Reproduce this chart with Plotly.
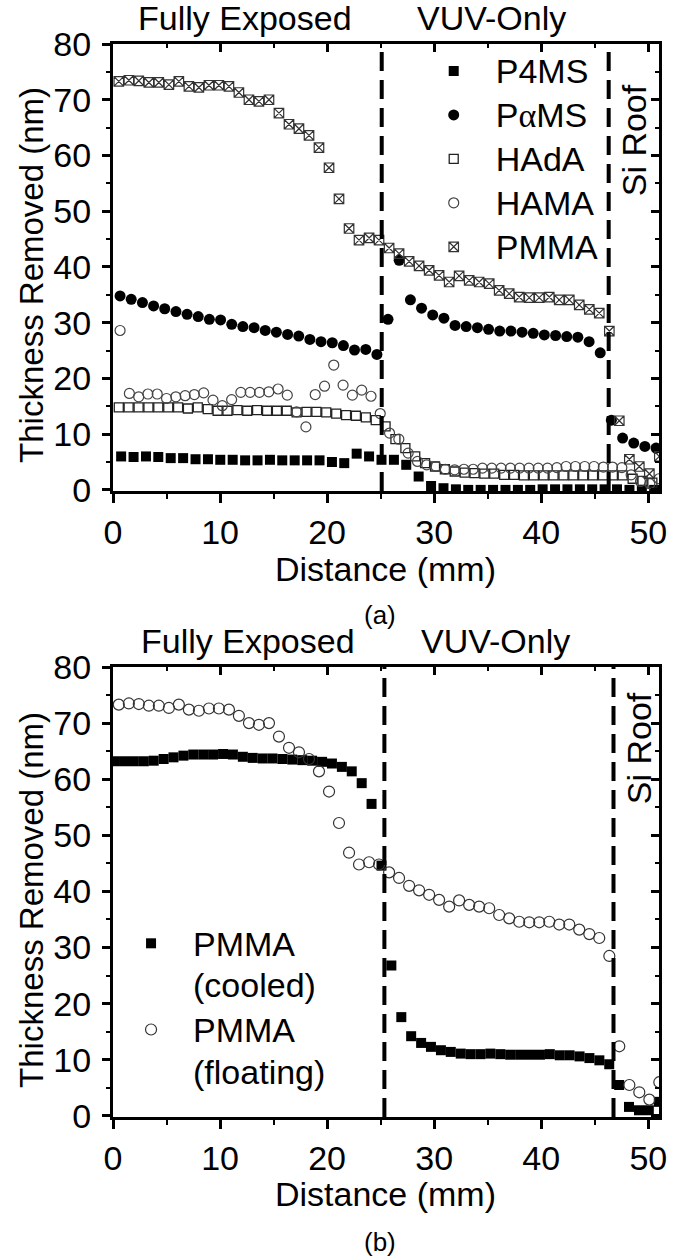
import plotly.graph_objects as go

# ---------------- data : panel (a) ----------------
p4ms_x = [0.76, 1.92, 3.08, 4.23, 5.39, 6.55, 7.71, 8.87, 10.02, 11.18, 12.34, 13.50, 14.66, 15.81,
          16.97, 18.13, 19.29, 20.45, 21.60, 22.76, 23.92, 25.08, 26.24, 27.39, 28.55, 29.71, 30.87,
          32.03, 33.18, 34.34, 35.50, 36.66, 37.82, 38.97, 40.13, 41.29, 42.45, 43.61, 44.76, 45.92,
          47.08, 48.24, 49.40, 50.55]
p4ms_y = [6.0, 5.9, 6.0, 5.9, 5.7, 5.7, 5.5, 5.5, 5.4, 5.4, 5.3, 5.3, 5.4, 5.3, 5.3, 5.3, 5.3, 5.0,
          4.8, 6.5, 6.0, 5.4, 5.4, 4.5, 2.4, 0.7, 0.3, 0.1, 0.0, 0.0, 0.0, 0.0, 0.0, 0.0, 0.1, 0.1,
          0.1, 0.1, 0.1, 0.1, 0.1, 0.0, 0.0, 0.0]

pams_x = [0.66, 1.70, 2.75, 3.79, 4.83, 5.88, 6.92, 7.96, 9.00, 10.05, 11.09, 12.13, 13.18, 14.22,
          15.26, 16.31, 17.35, 18.39, 19.43, 20.48, 21.52, 22.56, 23.61, 24.65, 25.69, 26.73, 27.78,
          28.82, 29.86, 30.91, 31.95, 32.99, 34.04, 35.08, 36.12, 37.17, 38.21, 39.25, 40.29, 41.34,
          42.38, 43.42, 44.47, 45.51, 46.55, 47.60, 48.64, 49.68, 50.72]
pams_y = [34.8, 34.2, 33.6, 33.0, 32.5, 32.0, 31.5, 31.1, 30.6, 30.5, 29.7, 29.3, 29.1, 28.6, 28.3,
          27.9, 27.6, 27.0, 26.6, 26.4, 25.9, 25.1, 25.2, 24.3, 30.6, 41.2, 34.1, 32.6, 31.4, 30.8,
          29.5, 29.3, 29.1, 28.8, 28.5, 28.5, 28.3, 28.1, 27.8, 27.7, 27.5, 27.4, 26.6, 24.6, 12.5,
          9.3, 8.4, 7.8, 7.5]

hada_x = [0.54, 1.46, 2.39, 3.31, 4.23, 5.16, 6.08, 7.00, 7.92, 8.85, 9.77, 10.69, 11.62, 12.54,
          13.46, 14.39, 15.31, 16.23, 17.15, 18.08, 19.00, 19.92, 20.85, 21.77, 22.69, 23.62, 24.54,
          25.46, 26.38, 27.31, 28.23, 29.15, 30.08, 31.00, 31.92, 32.85, 33.77, 34.69, 35.61, 36.54,
          37.46, 38.38, 39.31, 40.23, 41.15, 42.08, 43.00, 43.92, 44.84, 45.77, 46.69, 47.61, 48.54,
          49.46, 50.38]
hada_y = [14.8, 14.8, 14.8, 14.8, 14.8, 14.8, 14.8, 14.6, 14.8, 14.5, 14.2, 14.2, 14.3, 14.2, 14.3,
          14.2, 14.2, 14.2, 13.9, 14.0, 14.0, 13.9, 13.7, 13.4, 13.3, 13.0, 12.5, 11.4, 9.1, 7.5,
          6.0, 4.8, 4.2, 3.7, 3.3, 3.1, 3.0, 2.9, 2.9, 2.7, 2.7, 2.6, 2.6, 2.6, 2.6, 2.6, 2.6, 2.6,
          2.6, 2.6, 2.6, 2.6, 2.0, 1.6, 1.3]

hama_x = [0.66, 1.53, 2.40, 3.26, 4.13, 5.00, 5.87, 6.74, 7.60, 8.47, 9.34, 10.21, 11.08, 11.94,
          12.81, 13.68, 14.55, 15.42, 16.28, 17.15, 18.02, 18.89, 19.76, 20.62, 21.49, 22.36, 23.23,
          24.10, 24.96, 25.83, 26.70, 27.57, 28.44, 29.30, 30.17, 31.04, 31.91, 32.78, 33.64, 34.51,
          35.38, 36.25, 37.12, 37.98, 38.85, 39.72, 40.59, 41.46, 42.32, 43.19, 44.06, 44.93, 45.80,
          46.66, 47.53, 48.40, 49.27, 50.14, 51.00]
hama_y = [28.6, 17.3, 16.7, 17.2, 17.2, 16.4, 16.7, 16.9, 17.1, 17.4, 16.1, 15.1, 16.2, 17.5, 17.5,
          17.5, 17.6, 18.1, 17.0, 14.0, 11.3, 17.1, 18.6, 22.4, 18.8, 17.0, 17.9, 16.8, 13.7, 10.2,
          9.1, 6.6, 5.1, 4.5, 4.2, 3.7, 3.6, 3.7, 3.7, 3.9, 3.9, 3.9, 3.9, 3.9, 3.9, 3.9, 3.9, 4.0,
          4.2, 4.2, 4.2, 4.2, 4.1, 4.1, 4.0, 2.7, 1.5, 1.1, 2.0]

pmma_x = [0.54, 1.48, 2.41, 3.35, 4.28, 5.22, 6.15, 7.09, 8.02, 8.96, 9.89, 10.83, 11.76, 12.70,
          13.63, 14.57, 15.50, 16.44, 17.37, 18.31, 19.24, 20.18, 21.11, 22.05, 22.98, 23.92, 24.85,
          25.79, 26.72, 27.66, 28.59, 29.53, 30.46, 31.40, 32.33, 33.27, 34.20, 35.14, 36.07, 37.01,
          37.94, 38.88, 39.81, 40.75, 41.68, 42.62, 43.55, 44.49, 45.42, 46.36, 47.29, 48.23, 49.16,
          50.10, 51.03]
pmma_y = [73.3, 73.5, 73.4, 73.1, 73.1, 72.7, 73.3, 72.4, 72.2, 72.6, 72.6, 72.4, 71.3, 70.0, 69.7,
          70.0, 67.6, 65.6, 64.8, 63.6, 61.4, 57.8, 52.2, 46.9, 44.8, 45.2, 44.8, 43.4, 42.4, 41.0,
          40.2, 39.4, 38.5, 37.3, 38.4, 37.6, 37.3, 37.0, 35.8, 35.2, 34.6, 34.5, 34.5, 34.6, 34.1,
          34.1, 33.2, 32.4, 31.7, 28.5, 12.4, 5.5, 4.2, 2.9, 6.0]

# ---------------- data : panel (b) ----------------
cooled_x = [0.10, 1.03, 1.95, 2.88, 3.80, 4.73, 5.65, 6.58, 7.50, 8.43, 9.35, 10.28, 11.20, 12.13,
            13.05, 13.98, 14.90, 15.83, 16.75, 17.68, 18.60, 19.53, 20.45, 21.38, 22.30, 23.23,
            24.15, 25.08, 26.00, 26.93, 27.85, 28.78, 29.70, 30.63, 31.55, 32.48, 33.40, 34.33,
            35.25, 36.18, 37.10, 38.03, 38.95, 39.88, 40.80, 41.73, 42.65, 43.58, 44.50, 45.43,
            46.35, 47.28, 48.20, 49.13, 50.05, 50.98]
cooled_y = [63.2, 63.2, 63.2, 63.2, 63.3, 63.6, 63.9, 64.2, 64.4, 64.4, 64.4, 64.5, 64.4, 64.0,
            63.8, 63.7, 63.7, 63.6, 63.5, 63.4, 63.3, 63.1, 62.8, 62.2, 61.4, 59.3, 55.6, 44.6,
            26.8, 17.6, 14.2, 13.0, 12.3, 11.7, 11.4, 11.1, 11.0, 11.0, 11.1, 11.0, 10.9, 10.9,
            10.9, 10.9, 11.0, 10.8, 10.8, 10.6, 10.3, 9.9, 9.2, 5.5, 1.6, 1.0, 1.0, 2.5]
floating_x = pmma_x
floating_y = pmma_y

# region boundaries (mm)
bounds_a = [25.1, 46.3]
bounds_b = [25.35, 46.75]

x_ticks = [0, 10, 20, 30, 40, 50]
y_ticks = [0, 10, 20, 30, 40, 50, 60, 70, 80]

FONT = "Liberation Sans, Arial, sans-serif"
W, H = 679, 1257
ML, MR, MT, MB = 113, 14, 44, 140
PW, PH = W - ML - MR, H - MT - MB


def px(xp):
    return (xp - ML) / PW


def py(yp):
    return 1 - (yp - MT) / PH


def big(t):
    return "<span style='font-size:34px'>" + t + "</span>"


fig = go.Figure()

fig.add_trace(go.Scatter(x=p4ms_x, y=p4ms_y, mode="markers", name=big("P4MS"),
                         marker=dict(symbol="square", size=10, color="black"),
                         xaxis="x", yaxis="y", legend="legend"))
fig.add_trace(go.Scatter(x=pams_x, y=pams_y, mode="markers",
                         name=big("P<span style='font-family:Liberation Serif'>α</span>MS"),
                         marker=dict(symbol="circle", size=11, color="black"),
                         xaxis="x", yaxis="y", legend="legend"))
fig.add_trace(go.Scatter(x=hada_x, y=hada_y, mode="markers", name=big("HAdA"),
                         marker=dict(symbol="square-open", size=9, color="#222", line=dict(width=1.3, color="#222")),
                         xaxis="x", yaxis="y", legend="legend"))
fig.add_trace(go.Scatter(x=hama_x, y=hama_y, mode="markers", name=big("HAMA"),
                         marker=dict(symbol="circle-open", size=10, color="#444", line=dict(width=1.2, color="#444")),
                         xaxis="x", yaxis="y", legend="legend"))
fig.add_trace(go.Scatter(x=pmma_x, y=pmma_y, mode="markers", name=big("PMMA"),
                         marker=dict(symbol="square-x-open", size=9.5, color="#333", line=dict(width=1.2, color="#333")),
                         xaxis="x", yaxis="y", legend="legend"))

fig.add_trace(go.Scatter(x=cooled_x, y=cooled_y, mode="markers", name=big("PMMA") + "<br>" + big("(cooled)"),
                         marker=dict(symbol="square", size=10, color="black"),
                         xaxis="x2", yaxis="y2", legend="legend2"))
fig.add_trace(go.Scatter(x=floating_x, y=floating_y, mode="markers", name=big("PMMA") + "<br>" + big("(floating)"),
                         marker=dict(symbol="circle-open", size=11, color="#333", line=dict(width=1.2, color="#333")),
                         xaxis="x2", yaxis="y2", legend="legend2"))

# dummy traces to activate mirror (top/right) axes
fig.add_trace(go.Scatter(x=[], y=[], xaxis="x3", yaxis="y3", showlegend=False, hoverinfo="skip"))
fig.add_trace(go.Scatter(x=[], y=[], xaxis="x4", yaxis="y4", showlegend=False, hoverinfo="skip"))

XR = [0, 51]
YR = [-0.2, 80]
dom_a = [py(491), 1.0]
dom_b = [0.0, py(667)]

tickfont = dict(family=FONT, size=34, color="black")


def xax(anchor):
    return dict(range=XR, tickvals=x_ticks, ticks="outside", ticklen=9, tickwidth=2.5,
                tickcolor="black", showline=True, linewidth=3, linecolor="black",
                showgrid=False, zeroline=False, tickfont=tickfont, anchor=anchor,
                minor=dict(tick0=0, dtick=5, ticks="outside", ticklen=5, tickwidth=2, tickcolor="black"))


def yax(anchor, domain):
    return dict(range=YR, tickvals=y_ticks, ticks="outside", ticklen=8, tickwidth=2.5,
                tickcolor="black", showline=True, linewidth=3, linecolor="black",
                showgrid=False, zeroline=False, tickfont=tickfont, anchor=anchor, domain=domain,
                ticklabelstandoff=4,
                minor=dict(tick0=0, dtick=5, ticks="outside", ticklen=4, tickwidth=2, tickcolor="black"))


def mirror_x(over, anchor):
    return dict(range=XR, overlaying=over, anchor=anchor, side="top", tickvals=x_ticks,
                ticks="inside", ticklen=8, tickwidth=2.5, tickcolor="black", showticklabels=False,
                showline=True, linewidth=3, linecolor="black", showgrid=False, zeroline=False,
                minor=dict(tick0=0, dtick=5, ticks="inside", ticklen=4, tickwidth=2, tickcolor="black"))


def mirror_y(over, anchor):
    return dict(range=YR, overlaying=over, anchor=anchor, side="right", tickvals=y_ticks,
                ticks="inside", ticklen=8, tickwidth=2.5, tickcolor="black", showticklabels=False,
                showline=True, linewidth=3, linecolor="black", showgrid=False, zeroline=False,
                minor=dict(tick0=0, dtick=5, ticks="inside", ticklen=4, tickwidth=2, tickcolor="black"))


shapes = []
for b in bounds_a:
    shapes.append(dict(type="line", xref="x", yref="y domain", x0=b, x1=b, y0=0, y1=1, layer="above",
                       line=dict(color="black", width=4, dash="19px,9px")))
for b in bounds_b:
    shapes.append(dict(type="line", xref="x2", yref="y2 domain", x0=b, x1=b, y0=0, y1=1, layer="above",
                       line=dict(color="black", width=4, dash="19px,9px")))


def ann(text, xp, yp, size=34, angle=0):
    return dict(text=text, x=px(xp), y=py(yp), xref="paper", yref="paper", showarrow=False,
                xanchor="center", yanchor="middle", textangle=angle,
                font=dict(family=FONT, size=size, color="black"))


annotations = [
    ann("Fully Exposed", 246, 18), ann("VUV-Only", 496, 18),
    ann("Fully Exposed", 249, 641), ann("VUV-Only", 500, 641),
    ann("Si Roof", 640, 140, angle=-90), ann("Si Roof", 645, 748, angle=-90),
    ann("Distance (mm)", 388, 569), ann("Distance (mm)", 388, 1194),
    ann("Thickness Removed (nm)", 30, 275, size=33, angle=-90),
    ann("Thickness Removed (nm)", 30, 900, size=33, angle=-90),
    ann("(a)", 383, 615, size=26), ann("(b)", 383, 1242, size=26),
]

fig.update_layout(
    width=W, height=H, margin=dict(l=ML, r=MR, t=MT, b=MB),
    paper_bgcolor="white", plot_bgcolor="white",
    font=dict(family=FONT, size=34, color="black"),
    xaxis=xax("y"), yaxis=yax("x", dom_a),
    xaxis2=xax("y2"), yaxis2=yax("x2", dom_b),
    xaxis3=mirror_x("x", "y"), yaxis3=mirror_y("y", "x"),
    xaxis4=mirror_x("x2", "y2"), yaxis4=mirror_y("y2", "x2"),
    shapes=shapes, annotations=annotations,
    legend=dict(x=px(415), y=py(44), xanchor="left", yanchor="top", bgcolor="rgba(0,0,0,0)",
                itemwidth=74, font=dict(family=FONT, size=31.5, color="black"), tracegroupgap=0),
    legend2=dict(x=px(109), y=py(916), xanchor="left", yanchor="top", bgcolor="rgba(0,0,0,0)",
                 itemwidth=74, valign="top", font=dict(family=FONT, size=32, color="black"), tracegroupgap=0),
    showlegend=True,
)

fig.write_html("out.html")
